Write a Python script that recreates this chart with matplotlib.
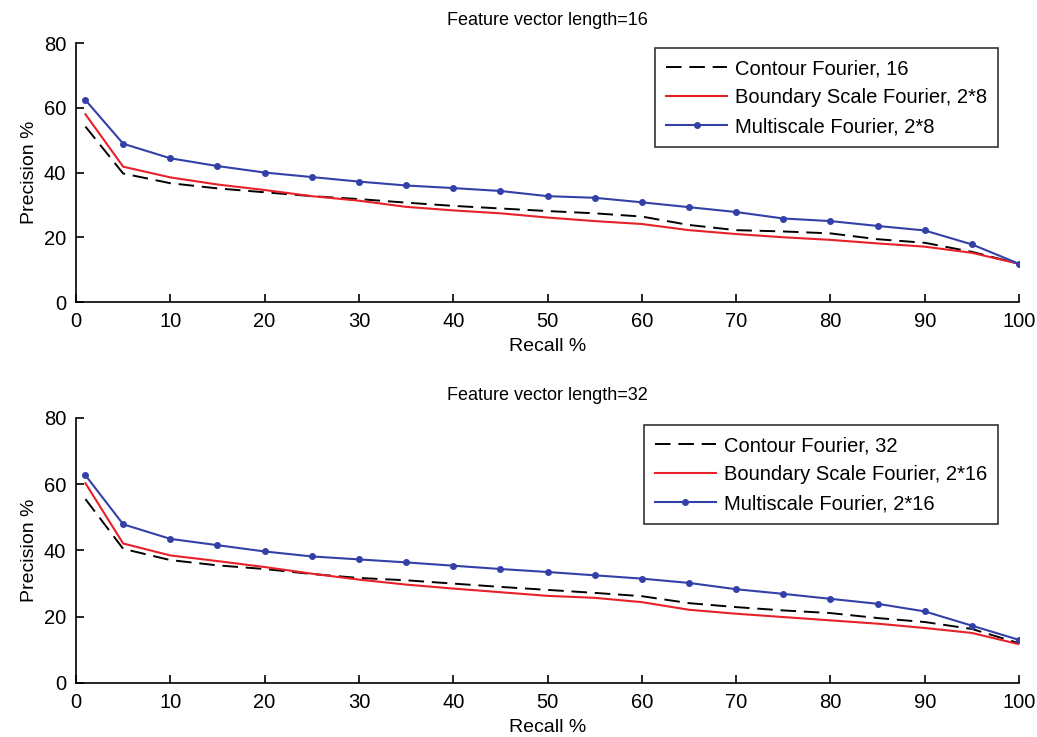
import matplotlib
matplotlib.use("Agg")
import matplotlib.pyplot as plt

plt.rcParams['font.family'] = ['Liberation Sans', 'DejaVu Sans']

recall = [1, 5, 10, 15, 20, 25, 30, 35, 40, 45, 50, 55, 60, 65, 70, 75, 80, 85, 90, 95, 100]

# Feature vector length = 16
contour16 = [54.2, 39.7, 36.7, 35.1, 33.9, 32.7, 31.8, 30.7, 29.7, 28.9, 28.1, 27.4, 26.4, 23.8, 22.2, 21.8, 21.2, 19.4, 18.3, 15.5, 11.8]
boundary16 = [58.0, 41.8, 38.5, 36.3, 34.6, 32.7, 31.3, 29.4, 28.3, 27.4, 26.1, 25.0, 24.1, 22.2, 21.0, 20.0, 19.2, 18.1, 17.1, 15.2, 11.8]
multi16 = [62.4, 48.9, 44.4, 42.0, 40.0, 38.6, 37.2, 36.0, 35.2, 34.3, 32.7, 32.2, 30.8, 29.3, 27.8, 25.8, 25.0, 23.5, 22.1, 17.8, 11.8]

# Feature vector length = 32
contour32 = [55.5, 40.5, 37.1, 35.5, 34.4, 32.9, 31.7, 31.0, 30.0, 29.0, 28.1, 27.2, 26.2, 24.1, 22.9, 21.9, 21.1, 19.6, 18.4, 16.3, 12.0]
boundary32 = [60.3, 42.1, 38.5, 36.8, 35.0, 33.0, 31.2, 29.7, 28.5, 27.4, 26.3, 25.7, 24.4, 22.1, 20.9, 19.9, 18.9, 17.9, 16.6, 15.1, 11.7]
multi32 = [62.7, 47.9, 43.5, 41.6, 39.7, 38.2, 37.3, 36.4, 35.4, 34.4, 33.5, 32.5, 31.5, 30.2, 28.3, 26.9, 25.4, 23.9, 21.6, 17.3, 13.0]

titles = ["Feature vector length=16", "Feature vector length=32"]
labels16 = ["Contour Fourier, 16", "Boundary Scale Fourier, 2*8", "Multiscale Fourier, 2*8"]
labels32 = ["Contour Fourier, 32", "Boundary Scale Fourier, 2*16", "Multiscale Fourier, 2*16"]
xticks = [0, 10, 20, 30, 40, 50, 60, 70, 80, 90, 100]
yticks = [0, 20, 40, 60, 80]

BLUE = '#3340a8'
RED = '#e8202a'

fig = plt.figure(figsize=(10.37, 7.37), dpi=100)
ax1 = fig.add_axes([0.0733, 0.5902, 0.9094, 0.3514])
ax2 = fig.add_axes([0.0733, 0.0733, 0.9094, 0.3596])

datasets = [(ax1, contour16, boundary16, multi16, labels16, titles[0], (0.9777, 0.981)),
            (ax2, contour32, boundary32, multi32, labels32, titles[1], (0.9777, 0.9736))]

for ax, c, b, m, labs, t, anchor in datasets:
    ax.plot(recall, c, color='black', linestyle=(0, (8, 4)), linewidth=1.4, label=labs[0])
    ax.plot(recall, b, color=RED, linewidth=1.5, label=labs[1])
    ax.plot(recall, m, color=BLUE, linewidth=1.5, marker='o', markersize=4, label=labs[2])
    ax.set_xlim(0, 100)
    ax.set_ylim(0, 80)
    ax.set_xticks(xticks)
    ax.set_yticks(yticks)
    ax.spines['top'].set_visible(False)
    ax.spines['right'].set_visible(False)
    ax.spines['left'].set_linewidth(1.2)
    ax.spines['bottom'].set_linewidth(1.2)
    ax.tick_params(direction='in', length=6, width=1.2, labelsize=14.5, pad=7)
    ax.set_xlabel("Recall %", fontsize=14, labelpad=5)
    ax.set_ylabel("Precision %", fontsize=14, labelpad=4)
    ax.set_title(t, fontsize=13, pad=13)
    leg = ax.legend(loc='upper right', bbox_to_anchor=anchor, borderaxespad=0.0,
                    fontsize=14.5, frameon=True, fancybox=False, edgecolor='black',
                    handlelength=3.0, handletextpad=0.4, borderpad=0.55, labelspacing=0.5)
    leg.get_frame().set_linewidth(1.2)

fig.savefig("out.png", dpi=100)
